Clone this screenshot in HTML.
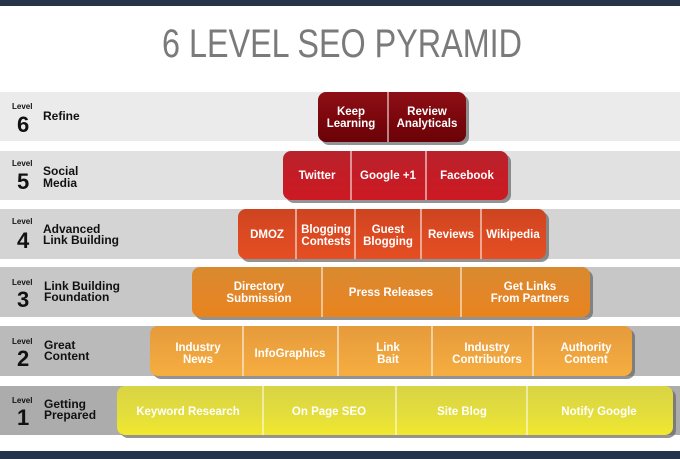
<!DOCTYPE html>
<html><head><meta charset="utf-8"><style>
html,body{margin:0;padding:0;background:#fff}
svg{display:block}
text{font-family:"Liberation Sans","DejaVu Sans",sans-serif}
.lv{font-size:8px;font-weight:bold;fill:#111}
.num{font-size:22px;font-weight:bold;fill:#111}
.lab{font-size:12px;font-weight:bold;fill:#111}
.bt{font-size:11.5px;font-weight:bold;fill:#fff;text-anchor:middle}
</style></head><body>
<svg width="680" height="459" viewBox="0 0 680 459" xmlns="http://www.w3.org/2000/svg">
<defs>
<linearGradient id="g6" x1="0" y1="0" x2="0" y2="1"><stop offset="0" stop-color="#8e1016"/><stop offset="0.5" stop-color="#7c070d"/><stop offset="1" stop-color="#6a0207"/></linearGradient>
<linearGradient id="g5" x1="0" y1="0" x2="0" y2="1"><stop offset="0" stop-color="#b8232c"/><stop offset="0.5" stop-color="#c41c26"/><stop offset="1" stop-color="#cc1a22"/></linearGradient>
<linearGradient id="g4" x1="0" y1="0" x2="0" y2="1"><stop offset="0" stop-color="#cc4420"/><stop offset="0.5" stop-color="#dc4a22"/><stop offset="1" stop-color="#e44e22"/></linearGradient>
<linearGradient id="g3" x1="0" y1="0" x2="0" y2="1"><stop offset="0" stop-color="#d98a2e"/><stop offset="0.5" stop-color="#e2862a"/><stop offset="1" stop-color="#e8841c"/></linearGradient>
<linearGradient id="g2" x1="0" y1="0" x2="0" y2="1"><stop offset="0" stop-color="#e69a3c"/><stop offset="0.5" stop-color="#eea43e"/><stop offset="1" stop-color="#f6ad40"/></linearGradient>
<linearGradient id="g1" x1="0" y1="0" x2="0" y2="1"><stop offset="0" stop-color="#d8d444"/><stop offset="0.6" stop-color="#e4de3c"/><stop offset="1" stop-color="#f2e82c"/></linearGradient>
</defs>
<rect x="0" y="0" width="680" height="6" fill="#253449"/>
<rect x="0" y="451" width="680" height="8" fill="#253449"/>
<text x="342" y="57" font-size="40" fill="#7a7a7a" text-anchor="middle" textLength="360" lengthAdjust="spacingAndGlyphs">6 LEVEL SEO PYRAMID</text>

<rect x="0" y="92" width="680" height="49" fill="#ebebeb"/>
<rect x="0" y="151" width="680" height="49" fill="#e1e1e1"/>
<rect x="0" y="209" width="680" height="50" fill="#d4d4d4"/>
<rect x="0" y="267" width="680" height="50" fill="#c7c7c7"/>
<rect x="0" y="326" width="680" height="50" fill="#bababa"/>
<rect x="0" y="386" width="680" height="49" fill="#acacac"/>

<g>
<text class="lv" x="12" y="109">Level</text><text class="num" x="17" y="132">6</text><text class="lab" x="43" y="120">Refine</text>
<text class="lv" x="12" y="166">Level</text><text class="num" x="17" y="189">5</text><text class="lab" x="43" y="175">Social</text><text class="lab" x="43" y="187">Media</text>
<text class="lv" x="12" y="224">Level</text><text class="num" x="17" y="248">4</text><text class="lab" x="43" y="233">Advanced</text><text class="lab" x="43" y="244">Link Building</text>
<text class="lv" x="12" y="285">Level</text><text class="num" x="17" y="307">3</text><text class="lab" x="44" y="290">Link Building</text><text class="lab" x="44" y="301">Foundation</text>
<text class="lv" x="12" y="344">Level</text><text class="num" x="17" y="366">2</text><text class="lab" x="44" y="349">Great</text><text class="lab" x="44" y="360">Content</text>
<text class="lv" x="12" y="403">Level</text><text class="num" x="17" y="425">1</text><text class="lab" x="44" y="408">Getting</text><text class="lab" x="44" y="419">Prepared</text>
</g>

<g fill="#666" opacity="0.7">
<rect x="321" y="95" width="148" height="50" rx="8"/>
<rect x="286" y="154" width="225" height="49" rx="8"/>
<rect x="241" y="212" width="308" height="50" rx="8"/>
<rect x="195" y="270" width="398" height="50" rx="8"/>
<rect x="153" y="329" width="482" height="50" rx="8"/>
<rect x="120" y="389" width="556" height="49" rx="8"/>
</g>
<rect x="318" y="92" width="148" height="50" rx="8" fill="url(#g6)"/>
<rect x="283" y="151" width="225" height="49" rx="8" fill="url(#g5)"/>
<rect x="238" y="209" width="308" height="50" rx="8" fill="url(#g4)"/>
<rect x="192" y="267" width="398" height="50" rx="8" fill="url(#g3)"/>
<rect x="150" y="326" width="482" height="50" rx="8" fill="url(#g2)"/>
<rect x="117" y="386" width="556" height="49" rx="8" fill="url(#g1)"/>

<g stroke="#fff" stroke-width="1.2" opacity="0.85">
<line x1="388" y1="92" x2="388" y2="142"/>
<line x1="351" y1="151" x2="351" y2="200"/><line x1="426" y1="151" x2="426" y2="200"/>
<line x1="296" y1="209" x2="296" y2="259"/><line x1="355" y1="209" x2="355" y2="259"/><line x1="421" y1="209" x2="421" y2="259"/><line x1="481" y1="209" x2="481" y2="259"/>
<line x1="322" y1="267" x2="322" y2="317"/><line x1="461" y1="267" x2="461" y2="317"/>
<line x1="243" y1="326" x2="243" y2="376"/><line x1="338" y1="326" x2="338" y2="376"/><line x1="432" y1="326" x2="432" y2="376"/><line x1="533" y1="326" x2="533" y2="376"/>
<line x1="263" y1="386" x2="263" y2="435"/><line x1="396" y1="386" x2="396" y2="435"/><line x1="527" y1="386" x2="527" y2="435"/>
</g>

<g>
<text class="bt" x="351" y="115">Keep</text><text class="bt" x="351" y="127">Learning</text>
<text class="bt" x="427" y="115">Review</text><text class="bt" x="427" y="127">Analyticals</text>
<text class="bt" x="317" y="179">Twitter</text><text class="bt" x="388" y="179">Google +1</text><text class="bt" x="467" y="179">Facebook</text>
<text class="bt" x="267" y="238">DMOZ</text>
<text class="bt" x="326" y="233">Blogging</text><text class="bt" x="326" y="245">Contests</text>
<text class="bt" x="388" y="233">Guest</text><text class="bt" x="388" y="245">Blogging</text>
<text class="bt" x="451" y="238">Reviews</text><text class="bt" x="513" y="238">Wikipedia</text>
<text class="bt" x="259" y="290">Directory</text><text class="bt" x="259" y="302">Submission</text>
<text class="bt" x="391" y="296">Press Releases</text>
<text class="bt" x="530" y="290">Get Links</text><text class="bt" x="530" y="302">From Partners</text>
<text class="bt" x="198" y="351">Industry</text><text class="bt" x="198" y="363">News</text>
<text class="bt" x="290" y="357">InfoGraphics</text>
<text class="bt" x="388" y="351">Link</text><text class="bt" x="388" y="363">Bait</text>
<text class="bt" x="487" y="351">Industry</text><text class="bt" x="487" y="363">Contributors</text>
<text class="bt" x="586" y="351">Authority</text><text class="bt" x="586" y="363">Content</text>
<text class="bt" x="188" y="415">Keyword Research</text>
<text class="bt" x="329" y="415">On Page SEO</text>
<text class="bt" x="462" y="415">Site Blog</text>
<text class="bt" x="599" y="415">Notify Google</text>
</g>
</svg>
</body></html>
